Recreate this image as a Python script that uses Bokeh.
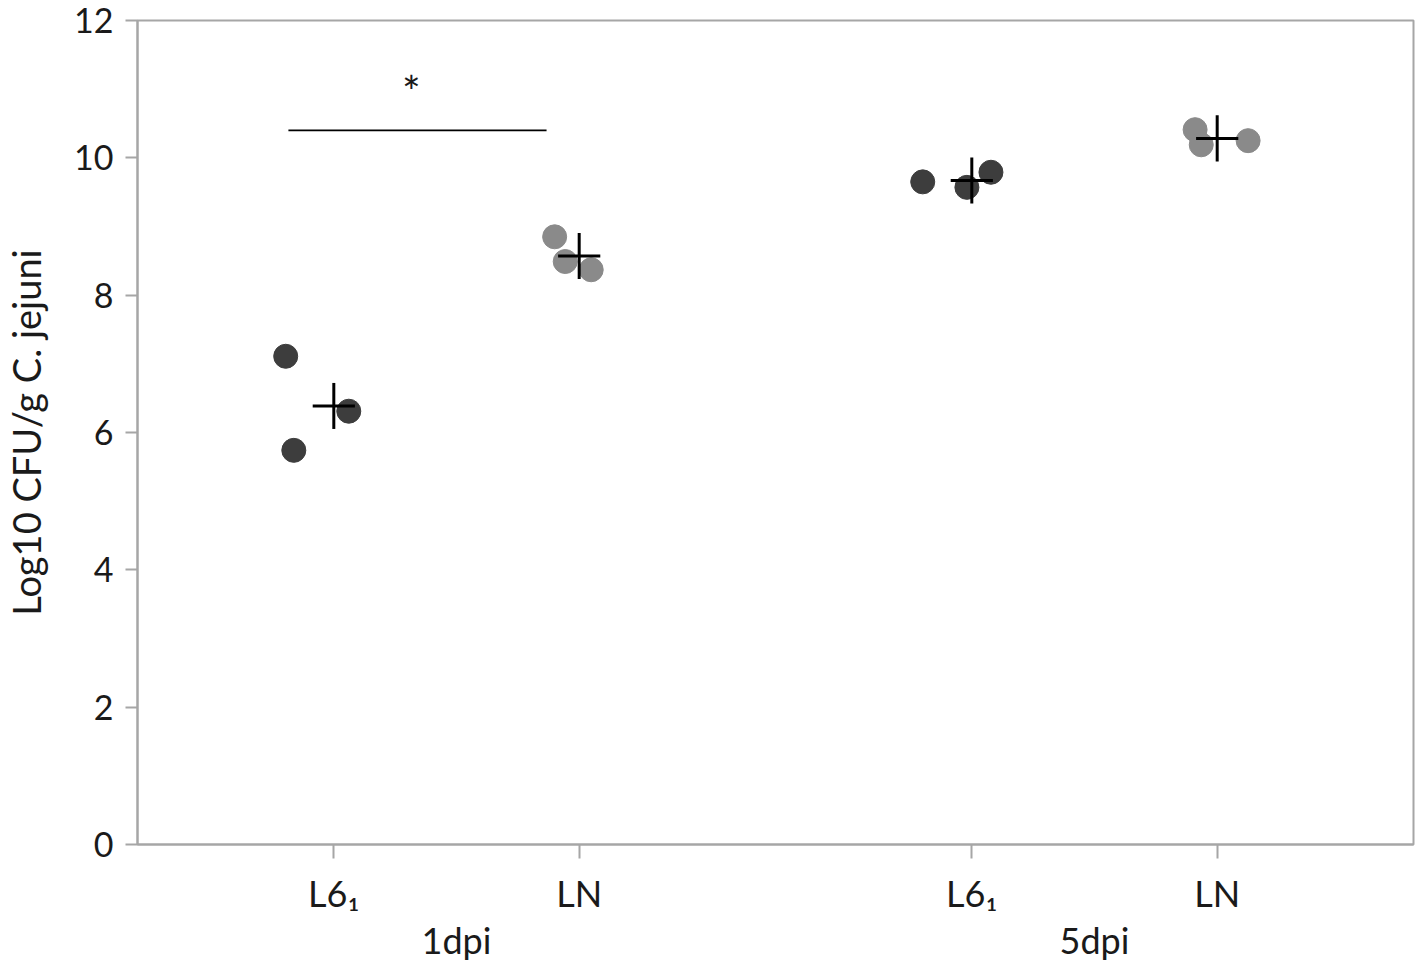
from bokeh.plotting import figure
from bokeh.models import Label, FixedTicker, ColumnDataSource, LinearAxis
from bokeh.embed import file_html
from bokeh.resources import INLINE

# ---- data ----
groups = ["1dpi", "5dpi"]
strains = ["L6\u2081", "LN"]
l6_1dpi = [7.11, 5.74, 6.31]
ln_1dpi = [8.85, 8.49, 8.37]
l6_5dpi = [9.65, 9.57, 9.79]
ln_5dpi = [10.41, 10.19, 10.25]
jit_l6_1dpi = [-0.196, -0.163, 0.061]
jit_ln_1dpi = [-0.10, -0.057, 0.049]
jit_l6_5dpi = [-0.20, -0.02, 0.078]
jit_ln_5dpi = [-0.09, -0.065, 0.126]
y_ticks = [0, 2, 4, 6, 8, 10, 12]
sig_y = 10.4
sig_label = "*"

FONT = "Lato"
DARK = "#3d3d3d"
LIGHT = "#8a8a8a"
AXC = "#a6a6a6"
TXT = "#1a1a1a"

# category layout
pos = [0.8, 1.8, 3.4, 4.4]
series = [
    (pos[0], l6_1dpi, jit_l6_1dpi, DARK),
    (pos[1], ln_1dpi, jit_ln_1dpi, LIGHT),
    (pos[2], l6_5dpi, jit_l6_5dpi, DARK),
    (pos[3], ln_5dpi, jit_ln_5dpi, LIGHT),
]

p = figure(width=1418, height=964, x_range=(0, 5.2), y_range=(0, 12),
           output_backend="svg", toolbar_location=None,
           min_border_left=137, min_border_right=5, min_border_top=20, min_border_bottom=120)
p.xgrid.visible = False
p.ygrid.visible = False
p.outline_line_color = AXC
p.outline_line_width = 2

for x0, vals, jit, col in series:
    src = ColumnDataSource(dict(x=[x0 + j for j in jit], y=vals))
    p.scatter("x", "y", source=src, size=24, fill_color=col, line_color=col)
    m = sum(vals) / len(vals)
    p.segment(x0=[x0 - 0.086], x1=[x0 + 0.086], y0=[m], y1=[m], line_color="black", line_width=3)
    p.segment(x0=[x0], x1=[x0], y0=[m - 0.335], y1=[m + 0.335], line_color="black", line_width=3)

# significance bar
p.segment(x0=[0.615], x1=[1.667], y0=[sig_y], y1=[sig_y], line_color="black", line_width=1.8)
p.add_layout(Label(x=(0.615 + 1.667) / 2 - 0.025, y=sig_y + 0.58, text=sig_label,
                   text_font=FONT, text_font_size="44px", text_align="center",
                   text_baseline="middle", text_color=TXT))

# y axis
p.yaxis.ticker = FixedTicker(ticks=y_ticks)
p.yaxis.axis_line_color = AXC
p.yaxis.axis_line_width = 2
p.yaxis.major_tick_line_color = AXC
p.yaxis.major_tick_line_width = 2
p.yaxis.major_tick_out = 12
p.yaxis.major_tick_in = 0
p.yaxis.minor_tick_line_color = None
p.yaxis.major_label_standoff = 12
p.yaxis.major_label_text_font = FONT
p.yaxis.major_label_text_font_size = "34px"
p.yaxis.major_label_text_color = TXT
p.yaxis.axis_label = "Log10 CFU/g C. jejuni"
p.yaxis.axis_label_text_font = FONT
p.yaxis.axis_label_text_font_size = "38px"
p.yaxis.axis_label_text_font_style = "normal"
p.yaxis.axis_label_text_color = TXT
p.yaxis.axis_label_standoff = 22

# x axis (strain labels)
p.xaxis.ticker = FixedTicker(ticks=pos)
labels = [strains[0], strains[1], strains[0], strains[1]]
p.xaxis.major_label_overrides = {x: l for x, l in zip(pos, labels)}
p.xaxis.axis_line_color = AXC
p.xaxis.axis_line_width = 2
p.xaxis.major_tick_line_color = AXC
p.xaxis.major_tick_line_width = 2
p.xaxis.major_tick_out = 14
p.xaxis.major_tick_in = 0
p.xaxis.minor_tick_line_color = None
p.xaxis.major_label_standoff = 12
p.xaxis.major_label_text_font = FONT
p.xaxis.major_label_text_font_size = "36px"
p.xaxis.major_label_text_color = TXT

# second axis (group labels)
mids = [(pos[2 * i] + pos[2 * i + 1]) / 2 for i in range(len(groups))]
gaxis = LinearAxis(ticker=FixedTicker(ticks=mids),
                   major_label_overrides={m: g for m, g in zip(mids, groups)})
gaxis.axis_line_color = None
gaxis.major_tick_line_color = None
gaxis.minor_tick_line_color = None
gaxis.major_tick_out = 0
gaxis.major_tick_in = 0
gaxis.major_label_standoff = 0
gaxis.major_label_text_font = FONT
gaxis.major_label_text_font_size = "36px"
gaxis.major_label_text_color = TXT
p.add_layout(gaxis, "below")

open("out.html", "w").write(file_html(p, INLINE))
